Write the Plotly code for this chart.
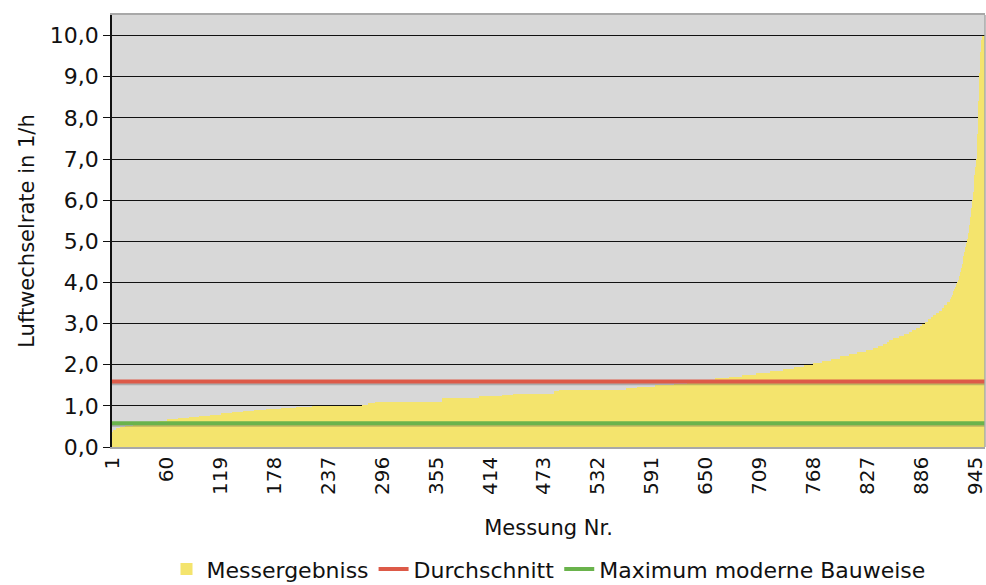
import plotly.graph_objects as go

levels = [0.36, 0.42, 0.46, 0.49, 0.52, 0.55, 0.58, 0.61, 0.64, 0.67, 0.70, 0.73,
          0.76, 0.79, 0.82, 0.85, 0.88, 0.91, 0.93, 0.96, 0.98, 1.00, 1.03, 1.07,
          1.10, 1.20, 1.23, 1.27, 1.30, 1.35, 1.39, 1.43, 1.47, 1.50, 1.54, 1.58,
          1.63, 1.67, 1.70, 1.75, 1.80, 1.85, 1.90, 1.95, 2.00, 2.05, 2.10, 2.15,
          2.20, 2.25, 2.30, 2.35, 2.40, 2.45, 2.50, 2.55, 2.60, 2.65, 2.70, 2.75,
          2.80, 2.85, 2.90, 2.95, 3.00, 3.05, 3.10, 3.15, 3.20, 3.25, 3.30, 3.38,
          3.45, 3.52, 3.60, 3.65, 3.70, 3.75, 3.80, 3.85, 3.90, 3.95, 4.00, 4.05,
          4.15, 4.25, 4.35, 4.45, 4.55, 4.65, 4.75, 4.85, 4.95, 5.05, 5.20, 5.40,
          5.60, 5.80, 6.00, 6.20, 6.40, 6.60, 6.80, 7.00, 7.60, 8.40, 9.10, 9.60,
          9.90, 10.00]
counts = [2, 3, 4, 6, 8, 10, 9, 9, 10, 12, 12, 11,
          12, 12, 12, 12, 12, 13, 16, 17, 17, 55, 7, 7,
          74, 40, 25, 12, 45, 6, 73, 12, 20, 20, 15, 15,
          15, 15, 15, 15, 15, 15, 12, 10, 10, 10, 10, 10,
          10, 9, 9, 8, 6, 5, 4, 3, 4, 6, 6, 5,
          4, 4, 4, 3, 3, 3, 3, 3, 3, 3, 3, 3,
          3, 3, 1, 1, 1, 1, 1, 1, 1, 1, 1, 1,
          1, 1, 1, 1, 1, 1, 1, 1, 1, 1, 1, 1,
          1, 1, 1, 1, 1, 1, 1, 1, 1, 1, 1, 1,
          1, 3]

average_value = 1.59
modern_max_value = 0.58

tick_labels = [1, 60, 119, 178, 237, 296, 355, 414, 473, 532, 591, 650, 709, 768, 827, 886, 945]

values = []
for v, c in zip(levels, counts):
    values += [v] * c
n = len(values)
nr = list(range(1, n + 1))

FONT = "Verdana, DejaVu Sans, sans-serif"
TEXT = "#111111"
SHADOW = "rgba(70,70,70,0.30)"

fig = go.Figure()
fig.add_trace(go.Bar(
    x=nr, y=values, name="Messergebniss",
    marker=dict(color="#f4e46d", line=dict(width=0)),
    width=1.0,
))
# soft drop shadows under the two reference lines
for val in (average_value, modern_max_value):
    fig.add_trace(go.Scatter(
        x=[0.5, n + 0.5], y=[val - 0.05] * 2, mode="lines",
        line=dict(color=SHADOW, width=3), showlegend=False, hoverinfo="skip",
    ))
fig.add_trace(go.Scatter(
    x=[0.5, n + 0.5], y=[average_value] * 2, mode="lines",
    name="Durchschnitt", line=dict(color="#dd5a48", width=4),
))
fig.add_trace(go.Scatter(
    x=[0.5, n + 0.5], y=[modern_max_value] * 2, mode="lines",
    name="Maximum moderne Bauweise", line=dict(color="#6ab34c", width=4),
))

fig.update_layout(
    width=986, height=585,
    margin=dict(l=112, r=1, t=15, b=138, autoexpand=False),
    paper_bgcolor="white",
    plot_bgcolor="#d8d8d8",
    separators=",.",
    bargap=0,
    font=dict(family=FONT, size=20, color=TEXT),
    showlegend=True,
    legend=dict(orientation="h", x=0.5, xanchor="center", y=-0.283, yanchor="middle",
                font=dict(size=22), itemwidth=30, tracegroupgap=0),
)
fig.update_xaxes(
    range=[0.5, n + 0.5], automargin=False,
    tickvals=tick_labels, ticktext=[str(t) for t in tick_labels],
    tickangle=-90, ticks="", showgrid=False, zeroline=False, ticklabeloverflow="allow",
    showline=True, linecolor="#a8a8a8", linewidth=1.5, mirror=True,
    title=dict(text="Messung Nr.", standoff=26, font=dict(size=21)),
    tickfont=dict(size=20),
)
fig.update_yaxes(
    range=[0, 10.5], dtick=1, tickformat=".1f", automargin=False,
    showgrid=True, gridcolor="#111111", gridwidth=1.4, zeroline=False,
    showline=True, linecolor="#111111", linewidth=1.5,
    ticks="outside", ticklen=7, tickcolor="#111111",
    title=dict(text="Luftwechselrate in 1/h", standoff=10, font=dict(size=21)),
    tickfont=dict(size=22),
)
fig.add_shape(type="line", xref="paper", yref="paper", x0=1, x1=1, y0=0, y1=1,
              line=dict(color="#a8a8a8", width=1.5))

# the page body has an 8px default margin; drop it so the figure sits at the window origin
fig.write_html("out.html", config={"displayModeBar": False},
               post_script="document.body.style.margin='0';")
